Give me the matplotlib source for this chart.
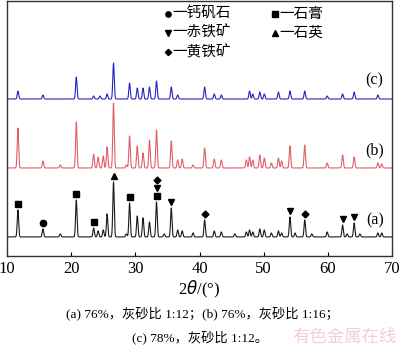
import numpy as np
import matplotlib.pyplot as plt

# peak positions (2theta) and heights above baseline for each sample
pos_a = [11.7, 15.6, 18.3, 20.8, 23.5, 24.2, 25.0, 25.6, 26.6, 28.6, 29.1, 30.3, 31.2, 32.2, 33.3, 34.5,
         35.6, 36.6, 37.3, 39.0, 40.8, 42.3, 43.4, 45.5, 47.3, 47.8, 48.3, 49.4, 50.1, 51.2, 52.3, 52.8,
         54.1, 54.9, 56.4, 57.5, 59.9, 62.3, 63.0, 64.1, 65.0, 67.8, 68.4]
hgt_a = [27, 8, 3, 37, 9, 6, 7, 23, 55, 3, 34, 21, 19, 15, 35, 3,
         29, 7, 6, 4, 17, 6, 5, 3, 5, 7, 5, 8, 7, 4, 6, 4,
         20, 4, 17, 3, 5, 12, 3, 14, 3, 4, 4]

pos_b = [11.7, 15.6, 18.3, 20.8, 23.5, 24.2, 25.0, 25.6, 26.6, 28.6, 29.1, 30.3, 31.2, 32.2, 33.3, 35.6,
         36.6, 37.3, 39.0, 40.8, 42.3, 43.4, 47.3, 47.8, 48.3, 49.4, 50.1, 51.2, 52.3, 52.8, 54.1, 56.4,
         59.9, 62.3, 64.1, 67.8, 68.4]
hgt_b = [40, 7, 3, 46, 14, 11, 12, 21, 65, 3, 32, 22, 15, 28, 38, 27,
         8, 9, 3, 20, 9, 8, 8, 11, 8, 13, 10, 5, 10, 7, 22, 23,
         5, 13, 11, 5, 4]

pos_c = [11.7, 15.6, 20.8, 23.5, 24.5, 25.6, 26.6, 29.1, 30.3, 31.2, 32.2, 33.3, 35.6, 36.6, 40.8,
         42.3, 43.4, 47.8, 48.3, 49.4, 50.1, 52.3, 54.1, 56.4, 59.9, 62.3, 64.1, 67.8]
hgt_c = [8, 4, 22, 3, 3, 5, 36, 16, 11, 11, 12, 18, 12, 4, 12,
         5, 4, 8, 5, 7, 5, 7, 8, 8, 3, 5, 7, 4]

base_a, base_b, base_c = 19, 88, 157

# phase markers on curve (a): (2theta, marker, stack index)
mark_x = [11.7, 15.6, 20.8, 23.5, 26.6, 29.1, 33.3, 33.3, 33.3, 35.6, 40.8, 54.1, 56.4, 62.3, 64.1]
mark_sym = ['s', 'o', 's', 's', '^', 's', 's', 'v', 'D', 'v', 'D', 'v', 'D', 'v', 'v']
mark_stack = [0, 0, 0, 0, 0, 0, 0, 1, 2, 0, 0, 0, 0, 0, 0]

legend_sym = ['o', 's', 'v', '^', 'D']
legend_txt = ['一钙矾石', '一石膏', '一赤铁矿', '一石英', '一黄铁矿']

x = np.arange(10, 70.01, 0.02)


def pattern(pos, hgt, base):
    y = np.full_like(x, float(base))
    for p, h in zip(pos, hgt):
        y += h * np.exp(-0.5 * ((x - p) / 0.11) ** 2)
    return y


fig = plt.figure(figsize=(4.0, 3.53), dpi=100)
ax = fig.add_axes([0.0175, 0.275, 0.9625, 0.722])

ya = pattern(pos_a, hgt_a, base_a)
yb = pattern(pos_b, hgt_b, base_b)
yc = pattern(pos_c, hgt_c, base_c)
ax.plot(x, ya, color='#1a1a1a', lw=0.8)
ax.plot(x, yb, color='#e0606a', lw=0.8)
ax.plot(x, yc, color='#2525c0', lw=0.8)

for mx, ms, st in zip(mark_x, mark_sym, mark_stack):
    top = np.interp(mx, x, ya)
    ax.plot(mx, top + 6 + st * 8, marker=ms, color='black', ms=3.5 if ms == 'D' else 4.5, ls='none')

for lbl, yy in zip(['(c)', '(b)', '(a)'], [176, 106, 36]):
    ax.text(67.3, yy, lbl, fontsize=11.5, family='Liberation Serif', ha='center', va='center')

lx = [0.418, 0.695, 0.418, 0.695, 0.418]
ly = [0.95, 0.95, 0.875, 0.875, 0.80]
for sx, sy, sym, txt in zip(lx, ly, legend_sym, legend_txt):
    ax.plot(sx, sy, marker=sym, color='black', ms=3.2 if sym == 'D' else 3.8, ls='none',
            transform=ax.transAxes)
    ax.text(sx + 0.012, sy, txt, fontsize=10.5, family='Noto Sans CJK SC', ha='left', va='center',
            transform=ax.transAxes)

ax.set_xlim(10, 70)
ax.set_ylim(0, 255)
ax.set_yticks([])
ax.set_xticks(range(10, 71, 10))
ax.tick_params(axis='x', direction='in', length=3, width=0.8, labelsize=12, pad=4)
for lab in ax.get_xticklabels():
    lab.set_family('Liberation Serif')
for s in ax.spines.values():
    s.set_linewidth(1.0)
    s.set_color('#333333')

ax.set_xlabel(r'2$\it{\theta}$/(°)', fontsize=12, family='Liberation Serif', labelpad=1)

cap_font = ['Liberation Serif', 'Noto Sans CJK SC']
fig.text(0.505, 0.113, '(a) 76%，灰砂比 1:12；(b) 76%，灰砂比 1:16；', fontsize=9.5, family=cap_font,
         ha='center', va='center')
fig.text(0.5, 0.045, '(c) 78%，灰砂比 1:12。', fontsize=9.5, family=cap_font, ha='center', va='center')
fig.text(0.86, 0.045, '有色金属在线', fontsize=12.5, family='Noto Sans CJK SC', color='#f5cfd2',
         ha='center', va='center')

fig.savefig('out.png', dpi=100)
